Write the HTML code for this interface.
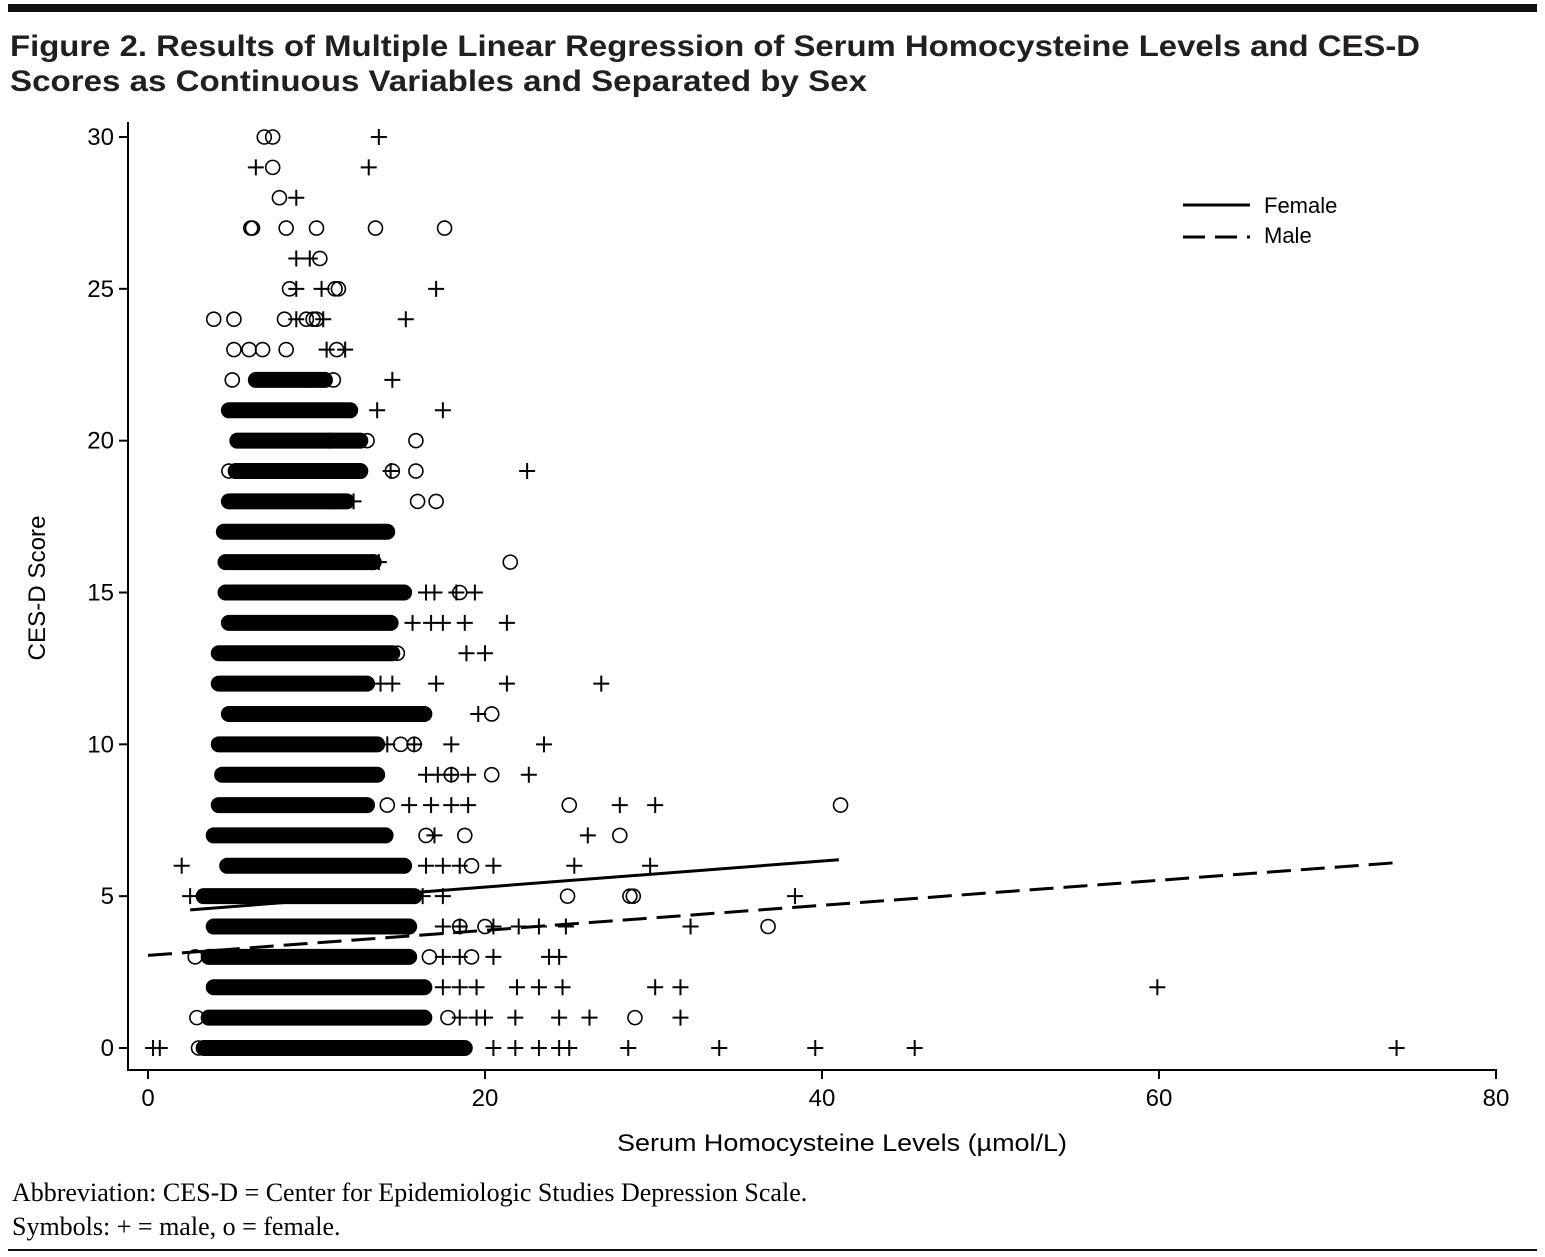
<!DOCTYPE html>
<html><head><meta charset="utf-8"><style>
html,body{margin:0;padding:0;background:#fff;}
svg{display:block;font-family:"Liberation Sans",sans-serif;}
</style></head><body>
<svg id="chart" width="1545" height="1257" viewBox="0 0 1545 1257" xmlns="http://www.w3.org/2000/svg">
<rect x="8" y="4" width="1529" height="8" fill="#111"/>
<text x="10" y="56" font-size="30" font-weight="bold" textLength="1410" lengthAdjust="spacingAndGlyphs" fill="#231f20">Figure 2. Results of Multiple Linear Regression of Serum Homocysteine Levels and CES-D</text>
<text x="10" y="91" font-size="30" font-weight="bold" textLength="857" lengthAdjust="spacingAndGlyphs" fill="#231f20">Scores as Continuous Variables and Separated by Sex</text>
<g id="axes"></g>
<g id="marks"></g>
<g>
<line x1="1183" y1="205" x2="1250" y2="205" stroke="#000" stroke-width="3"/>
<text x="1264" y="213" font-size="22">Female</text>
<line x1="1183" y1="237" x2="1250" y2="237" stroke="#000" stroke-width="3" stroke-dasharray="22,10"/>
<text x="1264" y="243" font-size="22">Male</text>
</g>
<text x="842" y="1151" font-size="24" text-anchor="middle" textLength="450" lengthAdjust="spacingAndGlyphs">Serum Homocysteine Levels (µmol/L)</text>
<text transform="translate(45,588) rotate(-90)" font-size="24" text-anchor="middle" textLength="145" lengthAdjust="spacingAndGlyphs">CES-D Score</text>
<text x="12" y="1201" font-size="26" font-family="Liberation Serif, serif">Abbreviation: CES-D = Center for Epidemiologic Studies Depression Scale.</text>
<text x="12" y="1235" font-size="26" font-family="Liberation Serif, serif">Symbols: + = male, o = female.</text>
<rect x="8" y="1249" width="1529" height="2" fill="#111"/>
</svg>
<script>
const xTicks=[0,20,40,60,80];
const yTicks=[0,5,10,15,20,25,30];
// dense bands: [cesd, xStart, xEnd]
const bandY=[22,21,20,19,18,17,16,15,14,13,12,11,10,9,8,7,6,5,4,3,2,1,0];
const bandX0=[6.4,4.8,5.3,5.2,4.8,4.5,4.6,4.6,4.8,4.2,4.2,4.8,4.2,4.4,4.2,3.9,4.7,3.3,3.9,3.6,3.9,3.6,3.3];
const bandX1=[10.5,12.0,12.6,12.6,11.8,14.2,13.4,15.2,14.4,14.5,13.0,16.4,13.6,13.6,13.0,14.1,15.2,15.8,15.5,15.5,16.4,16.4,18.8];
// male (+) points [x, cesd]
const maleX=[13.7,6.4,13.1,8.8,8.8,9.6,8.8,10.3,17.1,8.8,10.4,15.3,10.6,11.7,14.5,13.6,17.5,10.8,22.5,14.4,12.2,10.9,14.0,13.7,13.3,16.5,17.0,18.3,19.4,15.7,16.8,17.5,18.8,21.3,18.9,20.0,13.8,14.5,17.1,21.3,26.9,15.4,19.6,22.6,14.2,15.8,18.0,23.5,16.5,17.2,18.0,19.0,28.0,30.1,15.5,16.8,18.0,19.0,26.1,17.0,2.0,20.5,25.3,29.8,16.5,17.5,18.5,2.5,38.4,16.3,17.5,18.5,20.5,22.0,23.2,24.8,32.2,17.5,18.5,20.5,23.8,24.4,17.5,18.5,19.5,21.9,23.2,24.6,30.1,31.6,59.9,17.5,18.5,20.0,21.8,24.4,26.2,31.6,19.5,20.5,21.8,23.2,24.4,25.0,28.5,33.9,39.6,45.5,74.1,0.3,0.7];
const maleY=[30,29,29,28,26,26,25,25,25,24,24,24,23,23,22,21,21,20,19,19,18,18,17,16,16,15,15,15,15,14,14,14,14,14,13,13,12,12,12,12,12,11,11,9,10,10,10,10,9,9,9,9,8,8,8,8,8,8,7,7,6,6,6,6,6,6,6,5,5,5,5,4,4,4,4,4,4,4,3,3,3,3,3,2,2,2,2,2,2,2,2,2,1,1,1,1,1,1,1,0,0,0,0,0,0,0,0,0,0,0,0,0];
// female (o) points [x, cesd]
const femX=[6.9,7.4,7.4,7.8,6.1,6.2,8.2,10.0,13.5,17.6,10.2,8.4,11.1,11.3,3.9,5.1,8.1,9.4,9.8,10.0,5.1,6.0,6.8,8.2,11.2,5.0,9.5,11.0,4.8,11.9,13.0,15.9,4.8,14.5,15.9,16.0,17.1,21.5,18.5,13.0,14.8,12.5,15.2,20.4,15.8,15.0,18.0,20.4,14.2,25.0,41.1,16.5,18.8,28.0,19.2,24.9,28.6,28.8,18.5,20.0,36.8,2.8,16.7,19.2,2.9,17.8,28.9,3.0,16.0,17.5];
const femY=[30,30,29,28,27,27,27,27,27,27,26,25,25,25,24,24,24,24,24,24,23,23,23,23,23,22,22,22,21,21,20,20,19,19,19,18,18,16,15,13,13,12,11,11,10,10,9,9,8,8,8,7,7,7,6,5,5,5,4,4,4,3,3,3,1,1,1,0,0,0];
// regression lines: [x, cesd] endpoints
const femaleLineX=[2.5,41.0];
const femaleLineY=[4.55,6.2];
const maleLineX=[0.0,74.0];
const maleLineY=[3.05,6.1];

const NS="http://www.w3.org/2000/svg";
const sx=v=>148+v*(1496-148)/80;
const sy=v=>1048-v*(1048-137)/30;
function mk(tag,attrs,parent){const e=document.createElementNS(NS,tag);for(const k in attrs)e.setAttribute(k,attrs[k]);parent.appendChild(e);return e;}
const axes=document.getElementById('axes'), marks=document.getElementById('marks');
let e=mk('line',{x1:128,y1:122,x2:128,y2:1071,stroke:'#000','stroke-width':2},axes);


e=mk('line',{x1:127,y1:1070,x2:1497,y2:1070,stroke:'#000','stroke-width':2},axes);


yTicks.forEach(t=>{
 const y=sy(t);
 let l=mk('line',{x1:119,y1:y,x2:128,y2:y,stroke:'#000','stroke-width':2},axes);
 
 
 let tx=mk('text',{x:114,y:y+8,'font-size':24,'text-anchor':'end'},axes);tx.textContent=t;
 
 
});
xTicks.forEach(t=>{
 const x=sx(t);
 let l=mk('line',{x1:x,y1:1070,x2:x,y2:1079,stroke:'#000','stroke-width':2},axes);
 
 
 let tx=mk('text',{x:x,y:1106,'font-size':24,'text-anchor':'middle'},axes);tx.textContent=t;
 
 
});
bandY.forEach((v,i)=>{
 const x0=sx(bandX0[i]),x1=sx(bandX1[i]);
 let r=mk('rect',{x:x0-8,y:sy(v)-8,width:x1-x0+16,height:16,rx:8,fill:'#000'},marks);
 
 
});
maleX.forEach((v,i)=>{
 const x=sx(v),y=sy(maleY[i]);
 let p=mk('path',{d:`M${x-8},${y}H${x+8}M${x},${y-8}V${y+8}`,stroke:'#000','stroke-width':2,fill:'none'},marks);
 
 
});
femX.forEach((v,i)=>{
 let c=mk('circle',{cx:sx(v),cy:sy(femY[i]),r:7,stroke:'#000','stroke-width':1.6,fill:'none'},marks);
 
 
});
let fl=mk('line',{x1:sx(femaleLineX[0]),y1:sy(femaleLineY[0]),x2:sx(femaleLineX[1]),y2:sy(femaleLineY[1]),stroke:'#000','stroke-width':3},marks);


let ml=mk('line',{x1:sx(maleLineX[0]),y1:sy(maleLineY[0]),x2:sx(maleLineX[1]),y2:sy(maleLineY[1]),stroke:'#000','stroke-width':3,'stroke-dasharray':'24,10'},marks);


</script>
</body></html>
